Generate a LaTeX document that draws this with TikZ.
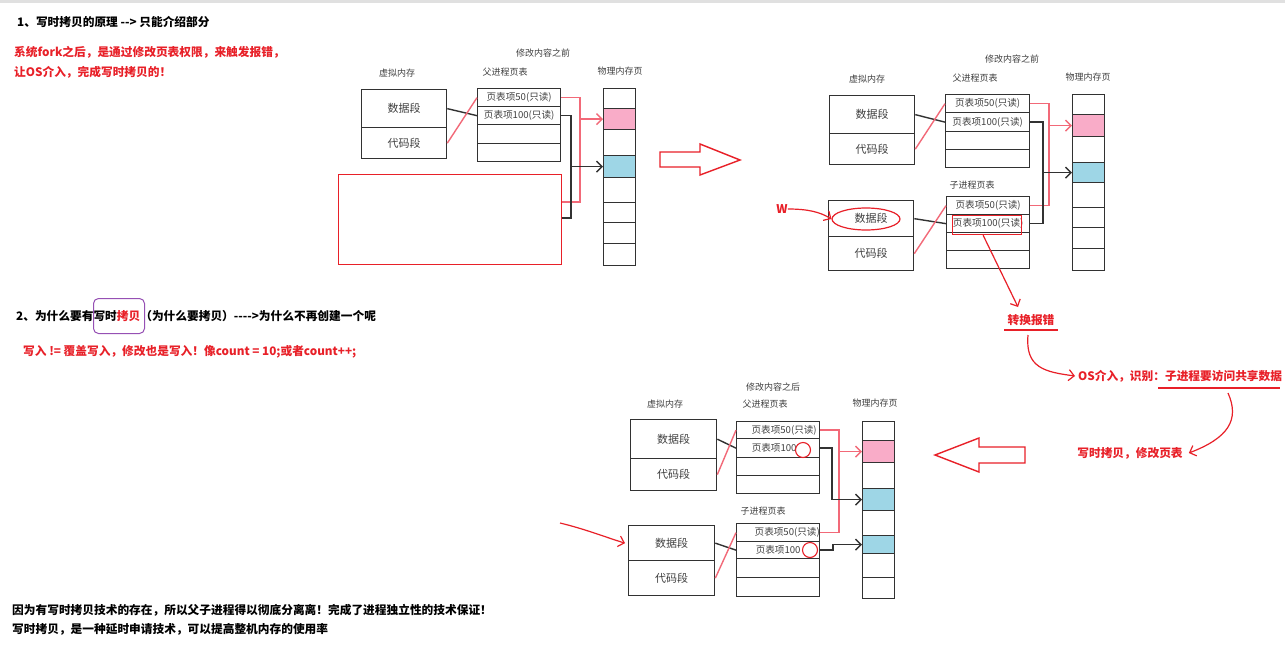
\documentclass[tikz,border=0pt]{standalone}
\usepackage{fontspec}
\setmainfont{Noto Sans CJK SC}[Ligatures=TeXOff]
\usetikzlibrary{arrows.meta,shapes.geometric}
\definecolor{redtxt}{RGB}{232,32,40}
\definecolor{linkred}{RGB}{242,105,120}
\definecolor{pagepink}{RGB}{249,172,200}
\definecolor{pageblue}{RGB}{158,214,230}
\definecolor{boxline}{RGB}{50,50,50}
\definecolor{lbl}{RGB}{64,64,64}
\definecolor{hlpurple}{RGB}{150,80,180}
\newcommand{\mkcell}[7]{\node[cell,fill=#6,minimum width={(#4-#2)*1pt},minimum height={(#5-#3)*1pt},anchor=north west] (#1) at (#2,#3) {#7};}
\newcommand{\ptf}{\fontsize{9.6}{11}\selectfont}
\begin{document}
\begin{tikzpicture}[x=1pt,y=-1pt,
  >={Straight Barb[length=5.5pt,width=11pt]},
  cell/.style={draw=boxline,line width=1.3pt,inner sep=0pt,text=lbl,font=\fontsize{11}{12}\selectfont},
  dlabel/.style={text=lbl,inner sep=0pt,font=\fontsize{9}{11}\selectfont},
  blk/.style={draw=boxline,line width=1.4pt},
  rlink/.style={draw=linkred,line width=1.4pt},
  redhand/.style={draw=redtxt,line width=1.2pt},
  maintext/.style={anchor=west,inner sep=0pt,font=\fontsize{11.7}{14}\selectfont\bfseries},
  redtext/.style={maintext,text=redtxt},
  bigarrow/.style={draw=redtxt,line width=1.4pt,line join=miter},
  hlbox/.style={draw=redtxt,line width=1.2pt,inner sep=0pt,anchor=north west}]
\useasboundingbox (0,0) rectangle (1285,651);
\fill[white] (0,0) rectangle (1285,651);
\fill[black!12] (0,0) rectangle (1285,3);

% ---------- texts ----------
\node[maintext] (t1) at (17,22) {1、写时拷贝的原理 --> 只能介绍部分};
\node[redtext] (r1) at (14,52) {系统fork之后，是通过修改页表权限，来触发报错，};
\node[redtext] (r2) at (14,72) {让OS介入，完成写时拷贝的！};
\node[maintext] (t2) at (16,316) {2、为什么要有写时\textcolor{redtxt}{拷贝}（为什么要拷贝）---->为什么不再创建一个呢};
\node[draw=hlpurple,line width=1pt,rounded corners=5pt,inner sep=0pt,minimum width=51pt,minimum height=35pt,anchor=north west] (hl) at (93,298) {};
\node[redtext] (r3) at (23,352) {写入 != 覆盖写入，修改也是写入！像count = 10;或者count++;};
\node[maintext] (b1) at (12,610) {因为有写时拷贝技术的存在，所以父子进程得以彻底分离离！完成了进程独立性的技术保证！};
\node[maintext] (b2) at (12,629) {写时拷贝，是一种延时申请技术，可以提高整机内存的使用率};

% ---------- top-left diagram ----------
\node[dlabel] (tlcap) at (543,53) {修改内容之前};
\node[dlabel] (tlvml) at (397,73) {虚拟内存};
\node[dlabel] (tlptl) at (505,72) {父进程页表};
\node[dlabel] (tlphl) at (620,71) {物理内存页};
\mkcell{tlvd}{361}{89}{446}{127}{white}{数据段}
\mkcell{tlvc}{361}{127}{446}{158}{white}{代码段}
\mkcell{tlp1}{477}{88}{560}{106}{white}{\ptf 页表项50(只读)}
\mkcell{tlp2}{477}{106}{560}{124}{white}{\ptf 页表项100(只读)}
\mkcell{tlp3}{477}{124}{560}{143}{white}{}
\mkcell{tlp4}{477}{143}{560}{161}{white}{}
\foreach \n/\a/\b/\c in {1/88/108/white,2/108/129/pagepink,3/129/155/white,4/155/177/pageblue,5/177/202/white,6/202/222/white,7/222/243/white,8/243/265/white}
  {\mkcell{tlph\n}{603}{\a}{635}{\b}{\c}{}}
\node[hlbox,line width=1.3pt,minimum width=223pt,minimum height=90pt] (tlchild) at (338,174) {};
\coordinate (tlrx) at (580,0);
\coordinate (tlbx) at (571,0);
\coordinate (tlrend) at (562,202);
\coordinate (tlbend) at (562,218);
\draw[blk] (tlvd.east) -- (tlp2.west);
\draw[rlink] (tlvc.east) -- (tlp1.west);
\draw[rlink] (tlp1.east) -| (tlrx |- tlrend) -- (tlrend);
\draw[rlink,->] (tlph2.west -| tlrx) -- (tlph2.west);
\draw[blk] (tlp2.east) -| (tlbx |- tlbend) -- (tlbend);
\draw[blk,->] (tlph4.west -| tlbx) -- (tlph4.west);

% ---------- big right arrow ----------
\draw[bigarrow] (660,152) -- (700,152) -- (700,144) -- (740,160) -- (700,175) -- (700,167) -- (660,167) -- cycle;

% ---------- top-right diagram ----------
\node[dlabel] (trcap) at (1012,59) {修改内容之前};
\node[dlabel] (trvml) at (867,79) {虚拟内存};
\node[dlabel] (trptl) at (975,78) {父进程页表};
\node[dlabel] (trphl) at (1088,77) {物理内存页};
\node[dlabel] (trctl) at (972,185) {子进程页表};
\mkcell{trvd}{829}{95}{914}{133}{white}{数据段}
\mkcell{trvc}{829}{133}{914}{164}{white}{代码段}
\mkcell{trwd}{828}{200}{913}{236}{white}{数据段}
\mkcell{trwc}{828}{236}{913}{270}{white}{代码段}
\mkcell{trp1}{945}{94}{1029}{112}{white}{\ptf 页表项50(只读)}
\mkcell{trp2}{945}{112}{1029}{131}{white}{\ptf 页表项100(只读)}
\mkcell{trp3}{945}{131}{1029}{149}{white}{}
\mkcell{trp4}{945}{149}{1029}{167}{white}{}
\mkcell{trc1}{946}{196}{1029}{214}{white}{\ptf 页表项50(只读)}
\mkcell{trc2}{946}{214}{1029}{232}{white}{\ptf 页表项100(只读)}
\mkcell{trc3}{946}{232}{1029}{250}{white}{}
\mkcell{trc4}{946}{250}{1029}{268}{white}{}
\foreach \n/\a/\b/\c in {1/94/114/white,2/114/136/pagepink,3/136/162/white,4/162/182/pageblue,5/182/207/white,6/207/227/white,7/227/248/white,8/248/270/white}
  {\mkcell{trph\n}{1072}{\a}{1104}{\b}{\c}{}}
\coordinate (trrx) at (1049,0);
\coordinate (trbx) at (1043,0);
\draw[blk] (trvd.east) -- (trp2.west);
\draw[rlink] (trvc.east) -- (trp1.west);
\draw[blk] (trwd.east) -- (trc2.west);
\draw[rlink] (trwc.east) -- (trc1.west);
\draw[rlink] (trp1.east) -| (trrx |- trc1.east) -- (trc1.east);
\draw[rlink,->] (trph2.west -| trrx) -- (trph2.west);
\draw[blk] (trp2.east) -| (trbx |- trc2.east) -- (trc2.east);
\draw[blk,->] (trph4.west -| trbx) -- (trph4.west);
\node[draw=redtxt,line width=1.2pt,ellipse,inner sep=0pt,minimum width=68pt,minimum height=22pt] (wring) at (866,219) {};
\node[text=redtxt,inner sep=0pt,font=\fontsize{12}{14}\selectfont\bfseries] (wlbl) at (782,209) {W};
\draw[redhand,->] (wlbl.east) .. controls (808,209) and (820,212) .. (wring.west);
\node[hlbox,minimum width=69pt,minimum height=19pt] (trhl) at (952,215) {};

% ---------- error flow ----------
\node[text=redtxt,inner sep=0pt,font=\fontsize{11.7}{14}\selectfont\bfseries] (err) at (1031,320) {转换报错};
\coordinate (errtip) at (1018,307);
\draw[redhand,->] ([xshift=-4pt]trhl.south) -- (errtip);
\draw[redhand] (1004,330) -- (1058,330);
\node[redtext] (os) at (1078,376) {OS介入，识别：子进程要访问共享数据};
\draw[redhand] (1158,388) -- (1280,388);
\draw[redhand,->] (1028,335) .. controls (1025,368) and (1045,372) .. ([xshift=-3pt]os.west);
\node[text=redtxt,inner sep=0pt,font=\fontsize{11.7}{14}\selectfont\bfseries] (cow) at (1130,453) {写时拷贝，修改页表};
\draw[redhand,->] (1228,393) .. controls (1240,420) and (1228,438) .. ([xshift=6pt]cow.east);

% ---------- big left arrow ----------
\draw[bigarrow] (935,455) -- (979,438) -- (979,447) -- (1025,447) -- (1025,463) -- (979,463) -- (979,472) -- cycle;

% ---------- bottom diagram ----------
\node[dlabel] (bcap) at (773,387) {修改内容之后};
\node[dlabel] (bvml) at (665,404) {虚拟内存};
\node[dlabel] (bptl) at (765,404) {父进程页表};
\node[dlabel] (bphl) at (875,403) {物理内存页};
\node[dlabel] (bctl) at (763,511) {子进程页表};
\mkcell{bvd}{630}{419}{716}{458}{white}{数据段}
\mkcell{bvc}{630}{458}{716}{490}{white}{代码段}
\mkcell{bwd}{628}{525}{714}{560}{white}{数据段}
\mkcell{bwc}{628}{560}{714}{595}{white}{代码段}
\mkcell{bp1}{736}{421}{819}{438}{white}{\ptf\hspace*{12pt}页表项50(只读)}
\mkcell{bp2}{736}{438}{819}{457}{white}{\ptf 页表项100\hspace*{8pt}}
\mkcell{bp3}{736}{457}{819}{475}{white}{}
\mkcell{bp4}{736}{475}{819}{493}{white}{}
\mkcell{bc1}{736}{523}{819}{541}{white}{\ptf\hspace*{18pt}页表项50(只读)}
\mkcell{bc2}{736}{541}{819}{558}{white}{\ptf 页表项100}
\mkcell{bc3}{736}{558}{819}{577}{white}{}
\mkcell{bc4}{736}{577}{819}{596}{white}{}
\foreach \n/\a/\b/\c in {1/421/440/white,2/440/462/pagepink,3/462/488/white,4/488/510/pageblue,5/510/535/white,6/535/553/pageblue,7/553/577/white,8/577/598/white}
  {\mkcell{bph\n}{862}{\a}{894}{\b}{\c}{}}
\coordinate (brx) at (839,0);
\coordinate (bbx) at (832,0);
\coordinate (bcx) at (833,0);
\draw[blk] (bvd.east) -- (bp2.west);
\draw[rlink] (bvc.east) -- (bp1.west);
\draw[blk] (bwd.east) -- (bc2.west);
\draw[rlink] (bwc.east) -- (bc1.west);
\draw[rlink] (bp1.east) -| (brx |- bc1.east) -- (bc1.east);
\draw[rlink,->] (bph2.west -| brx) -- (bph2.west);
\draw[blk,->] (bp2.east) -| (bbx |- bph4.west) -- (bph4.west);
\draw[blk,->] (bc2.east) -| (bcx |- bph6.west) -- (bph6.west);
\node[draw=redtxt,line width=1.1pt,circle,inner sep=0pt,minimum size=15pt] (bpc) at (803,450) {};
\node[draw=redtxt,line width=1.1pt,circle,inner sep=0pt,minimum size=15pt] (bcc) at (810,550) {};
\coordinate (bstart) at (560,523);
\draw[redhand,->] (bstart) .. controls (585,529) and (605,537) .. ([xshift=-3pt]bwd.west);
\end{tikzpicture}
\end{document}
